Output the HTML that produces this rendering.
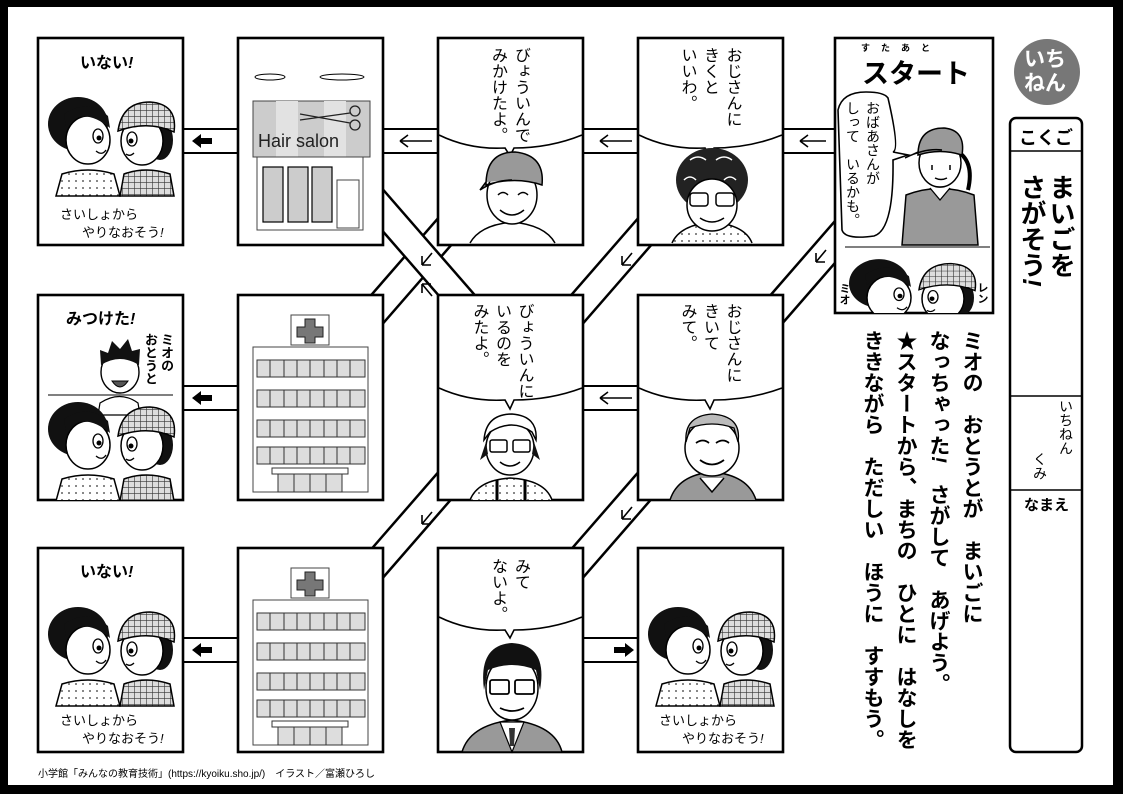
<!DOCTYPE html>
<html><head><meta charset="utf-8">
<style>
html,body{margin:0;padding:0;background:#fff}
body{width:1123px;height:794px;position:relative;overflow:hidden;font-family:"Liberation Sans","Noto Sans CJK JP",sans-serif;color:#000}
.t{position:absolute;white-space:nowrap}
.v{position:absolute;writing-mode:vertical-rl;white-space:nowrap}
.b{font-weight:bold}
</style></head><body>
<svg width="1123" height="794" style="position:absolute;left:0;top:0">
<defs>
<pattern id="chk" width="6" height="6" patternUnits="userSpaceOnUse"><rect width="6" height="6" fill="#ddd"/><path d="M0 0H6M0 0V6" stroke="#333" stroke-width="1.2"/></pattern>
<pattern id="dot" width="7" height="7" patternUnits="userSpaceOnUse"><rect width="7" height="7" fill="#fff"/><circle cx="3" cy="3" r="0.9" fill="#333"/></pattern>
<g id="kids">
 <path d="M18 158 L24 136 Q50 128 76 136 L82 158Z" fill="url(#dot)" stroke="#000" stroke-width="1.5"/>
 <ellipse cx="40" cy="86" rx="30" ry="27" fill="#111"/>
 <ellipse cx="50" cy="102" rx="22" ry="24" fill="#fff" stroke="#000" stroke-width="1.5"/>
 <path d="M28 88 Q45 68 72 90 L70 78 Q50 60 26 76Z" fill="#111"/>
 <ellipse cx="60" cy="98" rx="5" ry="7" fill="#fff" stroke="#000" stroke-width="1.3"/><circle cx="61" cy="100" r="2.5" fill="#000"/>
 <path d="M58 113 Q64 118 68 112" fill="none" stroke="#000" stroke-width="1.3"/>
 <path d="M82 158 L86 136 Q108 128 132 136 L136 158Z" fill="url(#chk)" stroke="#000" stroke-width="1.5"/>
 <ellipse cx="122" cy="102" rx="13" ry="20" fill="#111"/>
 <ellipse cx="104" cy="103" rx="21" ry="24" fill="#fff" stroke="#000" stroke-width="1.5"/>
 <path d="M80 93 Q84 64 112 64 Q140 66 136 94 Q110 82 80 93Z" fill="url(#chk)" stroke="#000" stroke-width="1.5"/>
 <ellipse cx="94" cy="101" rx="5" ry="7" fill="#fff" stroke="#000" stroke-width="1.3"/><circle cx="93" cy="103" r="2.5" fill="#000"/>
 <path d="M88 116 Q92 119 96 115" fill="none" stroke="#000" stroke-width="1.3"/>
</g>
</defs>
<rect x="4" y="3" width="1113" height="786" fill="none" stroke="#000" stroke-width="8"/>
<rect x="1113" y="0" width="10" height="794" fill="#000"/>
<rect x="0" y="785" width="1123" height="9" fill="#000"/>
<g stroke="#000" stroke-width="2">
<path d="M183 129H238M183 153H238M383 129H438M383 153H438M583 129H638M583 153H638M783 129H835M783 153H835"/>
<path d="M183 386H238M183 410H238M583 386H638M583 410H638"/>
<path d="M183 638H238M183 662H238M583 638H638M583 662H638"/>
</g>
<g stroke-linecap="butt">
<line x1="500" y1="168" x2="346" y2="345" stroke="#000" stroke-width="30"/><line x1="500" y1="168" x2="346" y2="345" stroke="#fff" stroke-width="25"/>
<line x1="346" y1="168" x2="500" y2="345" stroke="#000" stroke-width="30"/><line x1="346" y1="168" x2="500" y2="345" stroke="#fff" stroke-width="25"/>
<line x1="700" y1="168" x2="546" y2="345" stroke="#000" stroke-width="30"/><line x1="700" y1="168" x2="546" y2="345" stroke="#fff" stroke-width="25"/>
<line x1="895" y1="173" x2="741" y2="350" stroke="#000" stroke-width="30"/><line x1="895" y1="173" x2="741" y2="350" stroke="#fff" stroke-width="25"/>
<line x1="688" y1="436" x2="534" y2="613" stroke="#000" stroke-width="30"/><line x1="688" y1="436" x2="534" y2="613" stroke="#fff" stroke-width="25"/>
<line x1="488" y1="436" x2="334" y2="613" stroke="#000" stroke-width="30"/><line x1="488" y1="436" x2="334" y2="613" stroke="#fff" stroke-width="25"/>
</g>
<g stroke="#000" stroke-width="1.6" fill="none">
<path d="M400 141H432M400 141l8-6M400 141l8 6"/>
<path d="M600 141H632M600 141l8-6M600 141l8 6"/>
<path d="M800 141H826M800 141l8-6M800 141l8 6"/>
<path d="M600 398H632M600 398l8-6M600 398l8 6"/>
<path d="M432 253l-10 12M422 265h9M422 265v-9"/>
<path d="M632 253l-10 12M622 265h9M622 265v-9"/>
<path d="M826 250l-10 12M816 262h9M816 262v-9"/>
<path d="M432 512l-10 12M422 524h9M422 524v-9"/>
<path d="M632 507l-10 12M622 519h9M622 519v-9"/>
<path d="M432 296l-10-12M422 284h9M422 284v9"/>
</g>
<g fill="#000">
<path d="M192 141l9-7v4h11v6h-11v4z"/>
<path d="M192 398l9-7v4h11v6h-11v4z"/>
<path d="M192 650l9-7v4h11v6h-11v4z"/>
<path d="M634 650l-9-7v4h-11v6h11v4z"/>
</g>
<g fill="#fff" stroke="#000" stroke-width="2.6">
<rect x="38" y="38" width="145" height="207"/><rect x="238" y="38" width="145" height="207"/><rect x="438" y="38" width="145" height="207"/><rect x="638" y="38" width="145" height="207"/>
<rect x="38" y="295" width="145" height="205"/><rect x="238" y="295" width="145" height="205"/><rect x="438" y="295" width="145" height="205"/><rect x="638" y="295" width="145" height="205"/>
<rect x="38" y="548" width="145" height="204"/><rect x="238" y="548" width="145" height="204"/><rect x="438" y="548" width="145" height="204"/><rect x="638" y="548" width="145" height="204"/>
<rect x="835" y="38" width="158" height="275"/>
</g>
<svg x="38" y="38" width="145" height="207"><use href="#kids" x="0" y="0"/></svg>
<svg x="38" y="548" width="145" height="204"><use href="#kids" x="0" y="0"/></svg>
<svg x="638" y="548" width="145" height="204"><use href="#kids" x="0" y="0"/></svg>
<svg x="38" y="295" width="145" height="205">
 <path d="M10 100H135" stroke="#000" stroke-width="1"/>
 <path d="M62 108 Q82 95 100 108 L102 120 L60 120Z" fill="#fff" stroke="#000" stroke-width="1.2"/>
 <ellipse cx="82" cy="77" rx="19" ry="21" fill="#fff" stroke="#000" stroke-width="1.4"/>
 <path d="M63 70 L62 55 L70 58 L74 46 L82 54 L90 44 L94 56 L102 54 L101 70 Q82 58 63 70Z" fill="#111"/>
 <path d="M74 86 Q82 98 90 86Z" fill="#555" stroke="#000"/>
 <use href="#kids" x="0" y="48"/>
</svg>
<ellipse cx="270" cy="77" rx="15" ry="3" fill="none" stroke="#000"/><ellipse cx="342" cy="77" rx="22" ry="3" fill="none" stroke="#000"/>
<rect x="253" y="101" width="117" height="56" fill="#ccc" stroke="#444" stroke-width="1"/>
<rect x="276" y="101" width="22" height="56" fill="#e2e2e2"/><rect x="324" y="101" width="22" height="56" fill="#e2e2e2"/>
<rect x="257" y="157" width="106" height="73" fill="#fff" stroke="#444" stroke-width="1"/>
<g fill="#ccc" stroke="#000" stroke-width="1.2"><rect x="263" y="167" width="20" height="55"/><rect x="288" y="167" width="20" height="55"/><rect x="312" y="167" width="20" height="55"/></g>
<rect x="337" y="180" width="22" height="48" fill="#fff" stroke="#444"/>
<g fill="none" stroke="#222" stroke-width="1.3"><circle cx="355" cy="111" r="5"/><circle cx="355" cy="125" r="5"/><path d="M350 113L300 120M350 123L300 114"/></g>
<g id="hosp">
<rect x="291" y="315" width="38" height="30" fill="#fff" stroke="#444"/>
<path d="M305 319h10v8h8v10h-8v6h-10v-6h-8v-10h8z" fill="#777" stroke="#222"/>
<rect x="253" y="347" width="115" height="145" fill="#fff" stroke="#444"/>
<g fill="#ddd" stroke="#333"><rect x="257" y="360" width="108" height="17"/><rect x="257" y="390" width="108" height="17"/><rect x="257" y="420" width="108" height="17"/><rect x="257" y="447" width="108" height="17"/></g>
<path d="M270 360v17M284 360v17M297 360v17M310 360v17M324 360v17M337 360v17M350 360v17M270 390v17M284 390v17M297 390v17M310 390v17M324 390v17M337 390v17M350 390v17M270 420v17M284 420v17M297 420v17M310 420v17M324 420v17M337 420v17M350 420v17M270 447v17M284 447v17M297 447v17M310 447v17M324 447v17M337 447v17M350 447v17" stroke="#333"/>
<rect x="272" y="468" width="76" height="6" fill="#fff" stroke="#333"/>
<rect x="278" y="474" width="64" height="18" fill="#ddd" stroke="#333"/>
<path d="M294 474v18M310 474v18M326 474v18" stroke="#333"/>
</g>
<use href="#hosp" x="0" y="253"/>
<g fill="none" stroke="#000" stroke-width="1.6">
<path d="M439 135 Q470 150 505 148 L510 156 L514 148 Q550 148 582 135"/>
<path d="M639 135 Q670 150 705 148 L710 156 L714 148 Q750 148 782 135"/>
<path d="M439 388 Q470 402 505 400 L510 409 L514 400 Q550 400 582 388"/>
<path d="M639 388 Q670 402 705 400 L710 409 L714 400 Q750 400 782 388"/>
<path d="M439 617 Q470 632 505 630 L510 638 L514 630 Q550 630 582 617"/>
<path d="M888 98 Q900 150 893 152 L908 155 L893 160 Q894 230 874 236 Q845 240 842 230 L838 110 Q842 92 866 92 Q884 92 888 98Z" fill="#fff"/>
</g>
<path d="M470 243 Q480 225 512 222 Q545 225 555 243" fill="#fff" stroke="#000" stroke-width="1.5"/>
<ellipse cx="512" cy="195" rx="25" ry="29" fill="#fff" stroke="#000" stroke-width="1.5"/>
<path d="M486 185 Q486 152 515 152 Q545 155 542 185 Q515 176 486 185Z M486 182 L480 190 Q495 180 512 180" fill="#999" stroke="#000" stroke-width="1.5"/>
<path d="M498 195q5-5 10 0M518 195q5-5 10 0M500 210q12 10 24 0" fill="none" stroke="#000" stroke-width="1.5"/>
<path d="M672 243 Q680 225 712 222 Q745 225 752 243" fill="url(#dot)" stroke="#000" stroke-width="1.5"/>
<ellipse cx="712" cy="180" rx="36" ry="32" fill="#222"/>
<path d="M690 160q8-6 16 0M716 160q8-6 16 0M684 180q6-6 12 0M724 180q6-6 12 0" stroke="#fff" fill="none" stroke-width="1.5"/>
<ellipse cx="712" cy="205" rx="25" ry="26" fill="#fff" stroke="#000" stroke-width="1.5"/>
<g fill="none" stroke="#000" stroke-width="1.5"><rect x="690" y="193" width="18" height="13" rx="3"/><rect x="716" y="193" width="18" height="13" rx="3"/><path d="M700 218q12 8 24 0"/></g>
<path d="M470 500 Q478 480 510 478 Q545 480 552 500" fill="url(#dot)" stroke="#000" stroke-width="1.5"/>
<path d="M497 480v20M525 480v20" stroke="#000" stroke-width="3"/>
<ellipse cx="510" cy="448" rx="24" ry="27" fill="#fff" stroke="#000" stroke-width="1.5"/>
<path d="M484 440 Q486 414 512 414 Q538 416 536 440 L532 432 Q512 418 490 432Z" fill="#fff" stroke="#000" stroke-width="1.5"/>
<path d="M486 442 l-6 18 l8 -6z M534 442 l6 18 l-8 -6z" fill="#111"/>
<g fill="none" stroke="#000" stroke-width="1.5"><rect x="490" y="440" width="17" height="12" rx="2"/><rect x="513" y="440" width="17" height="12" rx="2"/><path d="M500 462q10 8 20 0"/></g>
<path d="M670 500 Q678 475 712 472 Q748 475 756 500" fill="#999" stroke="#000" stroke-width="1.5"/>
<path d="M700 478 L712 492 L724 478" fill="#fff" stroke="#000" stroke-width="1.5"/>
<ellipse cx="712" cy="448" rx="27" ry="28" fill="#fff" stroke="#000" stroke-width="1.5"/>
<path d="M686 442 Q684 416 712 414 Q742 416 738 442 L734 428 Q712 420 690 428Z" fill="#bbb" stroke="#000" stroke-width="1.3"/>
<path d="M696 443q7-5 13 0M716 443q7-5 13 0M700 460q12 9 24 0" fill="none" stroke="#000" stroke-width="1.8"/>
<path d="M462 752 Q470 725 512 720 Q555 725 562 752Z" fill="#999" stroke="#000" stroke-width="1.5"/>
<path d="M500 722 L512 752 L524 722Z" fill="#fff" stroke="#000" stroke-width="1.2"/><path d="M509 728h6l-1 18h-4z" fill="#333"/>
<ellipse cx="512" cy="688" rx="26" ry="32" fill="#fff" stroke="#000" stroke-width="1.5"/>
<path d="M484 690 Q478 645 512 643 Q548 645 540 690 L536 670 Q512 660 488 670Z" fill="#111"/>
<g fill="none" stroke="#000" stroke-width="1.8"><rect x="490" y="680" width="19" height="14" rx="2"/><rect x="515" y="680" width="19" height="14" rx="2"/><path d="M500 708q12 6 24 0"/></g>
<path d="M902 245 L906 195 Q940 182 974 195 L978 245Z" fill="#999" stroke="#000" stroke-width="1.5"/>
<path d="M930 188 L940 200 L950 188" fill="#fff" stroke="#000" stroke-width="1.3"/>
<path d="M955 150 Q975 160 968 190" fill="none" stroke="#000" stroke-width="4"/>
<ellipse cx="940" cy="163" rx="21" ry="24" fill="#fff" stroke="#000" stroke-width="1.5"/>
<path d="M918 155 Q918 128 944 128 Q966 130 962 155 Q940 148 918 155Z M918 152 L905 158 Q925 148 942 150" fill="#999" stroke="#000" stroke-width="1.5"/>
<path d="M932 165v5M950 165v5M935 178q6 3 12 0" stroke="#000" stroke-width="1.5" fill="none"/>
<path d="M845 247H990" stroke="#000" stroke-width="1"/>
<svg x="835" y="38" width="158" height="275"><g transform="translate(4,168) scale(1.0 0.9)"><use href="#kids"/></g></svg>
<circle cx="1047" cy="72" r="33" fill="#777"/>
<rect x="1010" y="118" width="72" height="634" rx="6" fill="#fff" stroke="#000" stroke-width="2.5"/>
<path d="M1010 151H1082M1010 396H1082M1010 490H1082" stroke="#000" stroke-width="1.5"/>
</svg>

<div class="t b" style="left:80px;top:49px;font-size:16px">いない<i>!</i></div>
<div class="t" style="left:60px;top:204px;font-size:13px">さいしょから</div>
<div class="t" style="left:82px;top:222px;font-size:13px">やりなおそう<i>!</i></div>
<div class="t b" style="left:66px;top:305px;font-size:16px">みつけた<i>!</i></div>
<div class="v b" style="left:142px;top:333px;font-size:13px;line-height:16px">ミオの<br>おとうと</div>
<div class="t b" style="left:80px;top:558px;font-size:16px">いない<i>!</i></div>
<div class="t" style="left:60px;top:710px;font-size:13px">さいしょから</div>
<div class="t" style="left:82px;top:728px;font-size:13px">やりなおそう<i>!</i></div>
<div class="t" style="left:659px;top:710px;font-size:13px">さいしょから</div>
<div class="t" style="left:682px;top:728px;font-size:13px">やりなおそう<i>!</i></div>
<div class="t" style="left:258px;top:131px;font-size:18px;color:#222">Hair salon</div>

<div class="v" style="left:486px;top:47px;font-size:16px;line-height:23px">びょういんで<br>みかけたよ。</div>
<div class="v" style="left:675px;top:47px;font-size:16px;line-height:22.5px">おじさんに<br>きくと<br>いいわ。</div>
<div class="v" style="left:467px;top:303px;font-size:16px;line-height:22.5px">びょういんに<br>いるのを<br>みたよ。</div>
<div class="v" style="left:675px;top:303px;font-size:16px;line-height:22.5px">おじさんに<br>きいて<br>みて。</div>
<div class="v" style="left:486px;top:558px;font-size:16px;line-height:23px">みて<br>ないよ。</div>

<div class="t b" style="left:861px;top:41px;font-size:9px;letter-spacing:11px">すたあと</div>
<div class="t b" style="left:862px;top:52px;font-size:27px">スタート</div>
<div class="v" style="left:843px;top:101px;font-size:14px;line-height:20px">おばあさんが<br>しって　いるかも。</div>
<div class="v b" style="left:838px;top:283px;font-size:11px;line-height:11px">ミオ</div>
<div class="v b" style="left:976px;top:282px;font-size:11px;line-height:11px">レン</div>

<div class="t b" style="left:1024px;top:48px;font-size:21px;line-height:24px;color:#fff;text-align:center">いち<br>ねん</div>
<div class="t b" style="left:1019px;top:124px;font-size:18px">こくご</div>
<div class="v b" style="left:1017px;top:174px;font-size:26px;line-height:29px">まいごを<br>さがそう<i>!</i></div>
<div class="v" style="left:1058px;top:399px;font-size:14px;line-height:16px">いちねん</div>
<div class="v" style="left:1032px;top:452px;font-size:14px;line-height:16px">くみ</div>
<div class="t b" style="left:1024px;top:494px;font-size:15px">なまえ</div>

<div class="v b" style="left:856px;top:330px;font-size:21px;line-height:33px">ミオの　おとうとが　まいごに<br>なっちゃった<i>!</i>　さがして　あげよう。<br>★スタートから、まちの　ひとに　はなしを<br>ききながら　ただしい　ほうに　すすもう。</div>

<div class="t" style="left:38px;top:765px;font-size:10px">小学館「みんなの教育技術」(https://kyoiku.sho.jp/)　イラスト／富瀬ひろし</div>
</body></html>
